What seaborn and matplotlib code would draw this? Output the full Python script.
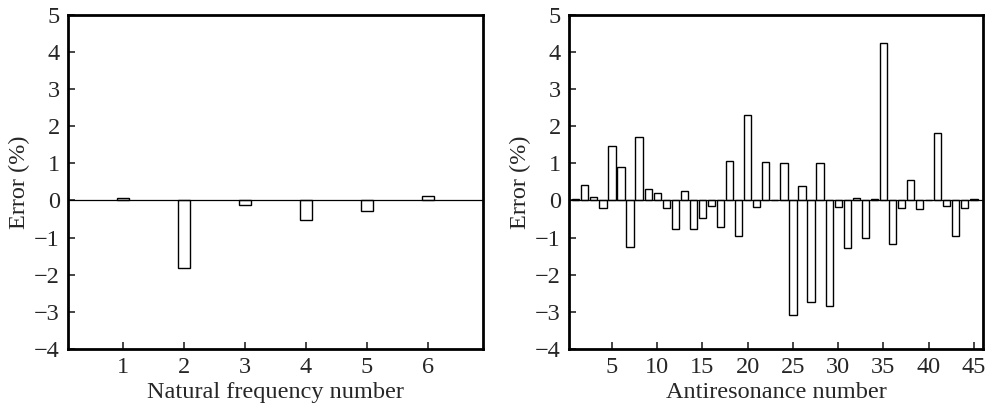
import numpy as np
import pandas as pd
import matplotlib
matplotlib.use("Agg")
import matplotlib.pyplot as plt
import seaborn as sns

# natural frequency errors (%)
nat_num = [1, 2, 3, 4, 5, 6]
nat_err = [0.08, -1.83, -0.13, -0.53, -0.27, 0.11]

# antiresonance errors (%)
anti_num = list(range(1, 46))
anti_err = [0.05, 0.43, 0.09, -0.20, 1.47, 0.89, -1.26, 1.70, 0.30, 0.19,
            -0.20, -0.78, 0.26, -0.76, -0.47, -0.15, -0.72, 1.07, -0.95, 2.29,
            -0.17, 1.03, 0.01, 1.02, -3.08, 0.40, -2.73, 1.02, -2.83, -0.17,
            -1.27, 0.06, -1.01, 0.04, 4.23, -1.16, -0.19, 0.55, -0.22, 0.01,
            1.83, -0.15, -0.97, -0.21, 0.05]

sns.set_style("white")
plt.rcParams['font.family'] = ['Liberation Serif', 'DejaVu Serif']
plt.rcParams['axes.unicode_minus'] = True

fs = 17.5

fig = plt.figure(figsize=(9.89, 4.11), dpi=100)
ax1 = fig.add_axes([0.0688, 0.151, 0.4196, 0.8127])
ax2 = fig.add_axes([0.5753, 0.151, 0.4186, 0.8127])

df1 = pd.DataFrame({'n': nat_num, 'err': nat_err})
df2 = pd.DataFrame({'n': anti_num, 'err': anti_err})

sns.barplot(data=df1, x='n', y='err', native_scale=True, width=0.2,
            color='white', edgecolor='black', linewidth=1.0, ax=ax1)
sns.barplot(data=df2, x='n', y='err', native_scale=True, width=0.8,
            color='white', edgecolor='black', linewidth=1.0, ax=ax2)

for ax in (ax1, ax2):
    ax.axhline(0, color='black', lw=0.9, zorder=3)
    ax.set_ylim(-4, 5)
    ax.set_yticks(range(-4, 6))
    ax.set_ylabel('Error (%)', fontsize=fs, labelpad=3)
    ax.tick_params(direction='in', length=5, width=1.2, labelsize=fs,
                   bottom=True, left=True, top=False, right=False, pad=6)
    for s in ax.spines.values():
        s.set_linewidth(2)
        s.set_color('black')
        s.set_visible(True)

ax1.set_xlim(0.1, 6.9)
ax1.set_xticks(nat_num)
ax1.set_xlabel('Natural frequency number', fontsize=fs, labelpad=3)

ax2.set_xlim(0.25, 46)
ax2.set_xticks(range(5, 46, 5))
ax2.set_xlabel('Antiresonance number', fontsize=fs, labelpad=3)

fig.savefig('out.png', dpi=100)
